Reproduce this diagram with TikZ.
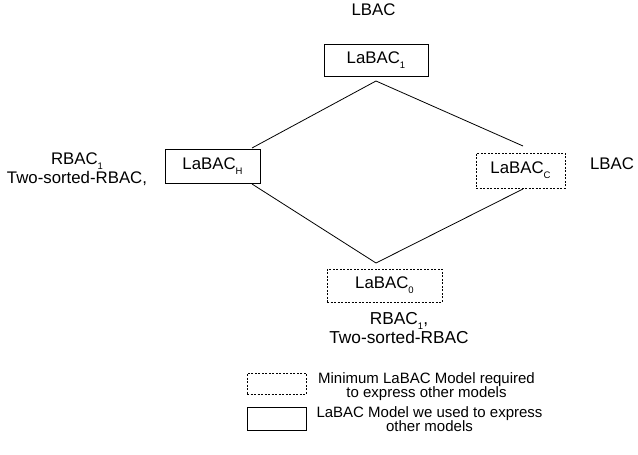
\documentclass[tikz,border=0pt]{standalone}
\usepackage{fontspec}
\setmainfont{Liberation Sans}
\newcommand\lsub[1]{\raisebox{-.3em}{\fontsize{9.5}{9.5}\selectfont #1}}
\begin{document}
\begin{tikzpicture}[x=1pt,y=-1pt,line width=.8pt,
    model/.style={draw,inner sep=0pt,font=\fontsize{16.8}{19}\selectfont},
    minmodel/.style={model,dash pattern=on 2pt off 1.5pt},
    txt/.style={align=center,font=\fontsize{16.8}{19}\selectfont},
    key/.style={align=center,font=\fontsize{15}{14}\selectfont}]
  \useasboundingbox (0,0) rectangle (638,455);
  \node[model,minimum width=104,minimum height=32] (one) at (376,60) {LaBAC\lsub{1}};
  \node[model,minimum width=95,minimum height=34] (h) at (212.5,166) {LaBAC\lsub{H}};
  \node[minmodel,minimum width=89,minimum height=35] (c) at (520.5,170.5) {LaBAC\lsub{C}};
  \node[minmodel,minimum width=115,minimum height=33] (zero) at (384.5,285.5) {LaBAC\lsub{0}};
  \node[txt] (lbac1) at (373.5,9.5) {LBAC};
  \node[txt] (lbac2) at (612,164) {LBAC};
  \node[txt] (rbach) at (77,169.5) {RBAC\lsub{1}\\Two-sorted-RBAC,};
  \node[txt,font=\fontsize{17.3}{19.5}\selectfont] (rbac0) at (399,328) {RBAC\lsub{1},\\Two-sorted-RBAC};
  \coordinate (1) at (252,148);
  \coordinate (2) at (376,81);
  \coordinate (3) at (523,146);
  \coordinate (4) at (252,184);
  \coordinate (5) at (376,263);
  \coordinate (6) at (523,189);
  \draw (1) -- (2) -- (3);
  \draw (4) -- (5) -- (6);
  % legend
  \node[minmodel,minimum width=59,minimum height=21] (kmin) at (276.5,383.5) {};
  \node[model,minimum width=59,minimum height=23] (kused) at (276.5,418.5) {};
  \node[key] (kmintxt) at (426.5,387) {Minimum LaBAC Model required\\to express other models};
  \node[key] (kusedtxt) at (429.5,419) {LaBAC Model we used to express\\other models};
\end{tikzpicture}
\end{document}
